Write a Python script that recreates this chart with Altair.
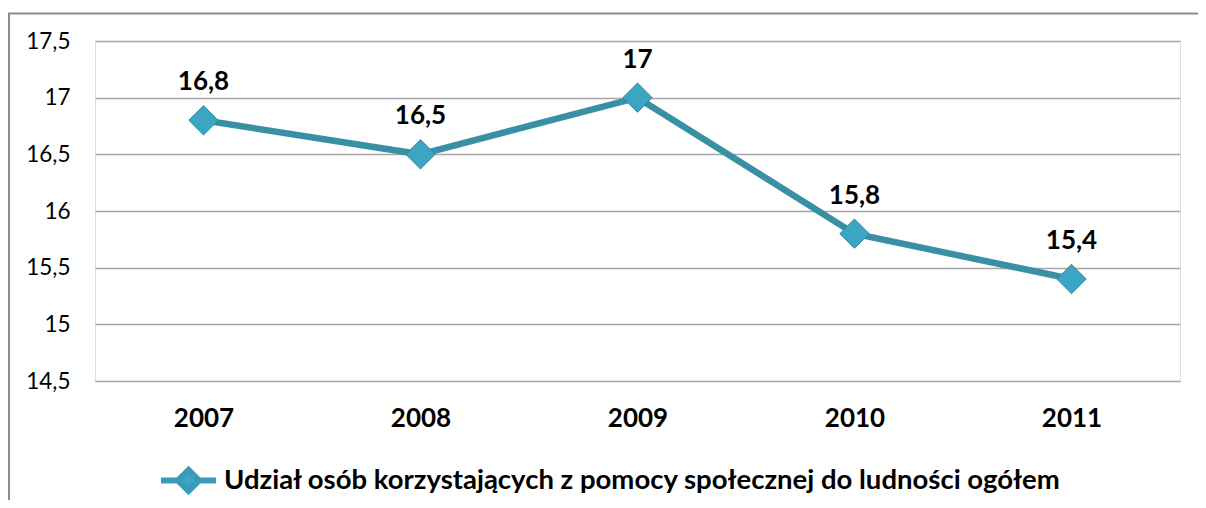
import altair as alt
import pandas as pd

years = ["2007", "2008", "2009", "2010", "2011"]
values = [16.8, 16.5, 17.0, 15.8, 15.4]
series = "Udział osób korzystających z pomocy społecznej do ludności ogółem"
title_text = "Wykres 29:  Udział osób korzystających z pomocy społecznej do ludności ogółem."
y_ticks = [14.5, 15, 15.5, 16, 16.5, 17, 17.5]

df = pd.DataFrame({"rok": years, "wartosc": values, "seria": [series] * len(years)})

LINE = "#3990a5"
FILL = "#3ba5c4"
EDGE = "#2f88a0"
MID = "#3a9bb6"
FONT = "Lato"

x = alt.X(
    "rok:N",
    sort=years,
    scale=alt.Scale(type="point", padding=0.5),
    axis=alt.Axis(
        title=None, labelAngle=0, labelFont=FONT, labelFontWeight="bold",
        labelFontSize=26, labelColor="#000", labelPadding=24,
        ticks=False, domain=False, grid=False,
    ),
)
y = alt.Y(
    "wartosc:Q",
    scale=alt.Scale(domain=[14.5, 17.5], nice=False, zero=False),
    axis=alt.Axis(
        title=None, values=y_ticks,
        labelExpr="replace(toString(datum.value), '.', ',')",
        labelFont=FONT, labelFontSize=22.5, labelColor="#000", labelPadding=25,
        ticks=False, domain=False, gridColor="#a6a6a6", gridWidth=1.5,
    ),
)

base = alt.Chart(df).encode(x=x, y=y)

line = base.mark_line(color=LINE, strokeWidth=6.5)

PATH = "M-1.5,0H-0.45M0.45,0H1.5M0,-0.58L0.58,0L0,0.58L-0.58,0Z"

pts = base.mark_point(
    shape="diamond", filled=True, size=860, stroke=EDGE, strokeWidth=1, opacity=1
).encode(
    color=alt.Color(
        "seria:N",
        scale=alt.Scale(range=[FILL]),
        legend=alt.Legend(
            title=None, orient="none", legendX=72, legendY=418,
            symbolType=PATH, symbolSize=1344, symbolStrokeWidth=6,
            symbolFillColor=FILL, symbolStrokeColor=MID, symbolOpacity=1,
            labelFont=FONT, labelFontSize=27.5, labelFontWeight="bold",
            labelColor="#000", labelOffset=14, padding=0, labelLimit=0,
        ),
    )
)

labels = base.mark_text(
    font=FONT, fontWeight="bold", fontSize=26, color="#000",
    baseline="alphabetic", dy=-30,
).transform_calculate(
    lbl="replace(toString(datum.wartosc), '.', ',')"
).encode(text="lbl:N")

border_df = pd.DataFrame({"k": [0]})
top_border = alt.Chart(border_df).mark_rule(color="#8c8c8c", strokeWidth=2).encode(
    x=alt.value(-87), x2=alt.value(1103), y=alt.value(-27.5)
)
left_border = alt.Chart(border_df).mark_rule(color="#8c8c8c", strokeWidth=2).encode(
    x=alt.value(-86), y=alt.value(-28), y2=alt.value(470)
)

chart = alt.layer(top_border, left_border, line, pts, labels).properties(
    width=1085,
    height=340,
    padding={"left": 87, "top": 33, "right": 18, "bottom": 119},
    autosize=alt.AutoSizeParams(type="none"),
    title=alt.TitleParams(
        text=title_text, font="Liberation Serif", fontSize=24, fontWeight="bold",
        color="#000", anchor="middle", baseline="alphabetic", offset=29, dx=-32,
    ),
).configure_view(stroke=None).configure(background="white")

chart.save("out.html", embed_options={"renderer": "svg", "actions": False})
